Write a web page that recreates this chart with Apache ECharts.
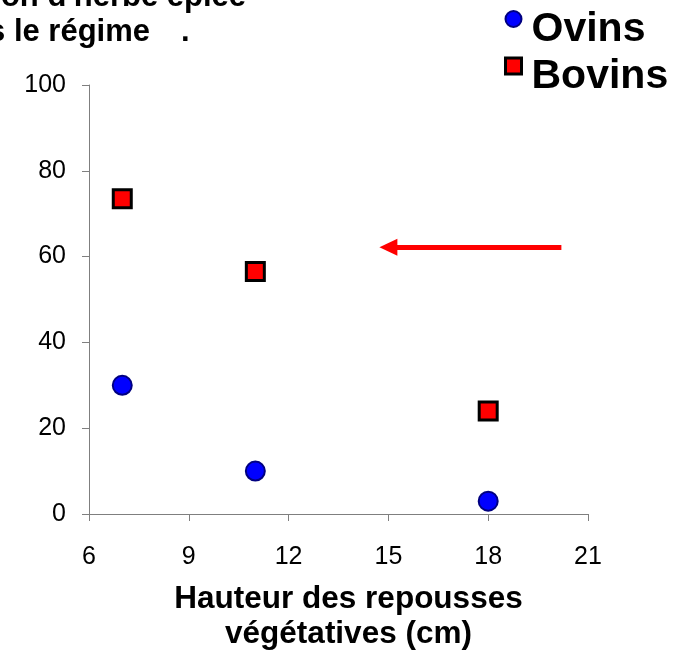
<!DOCTYPE html>
<html>
<head>
<meta charset="utf-8">
<script src="https://cdn.jsdelivr.net/npm/echarts@6/dist/echarts.min.js"></script>
<style>
  html, body { margin: 0; padding: 0; background: #fff; }
  #chart { width: 682px; height: 653px; }
</style>
</head>
<body>
<div id="chart"></div>
<script>
// hauteur des repousses (cm)
var hauteurs = [7, 11, 18];
// % d'herbe épiée dans le régime
var ovins = [30, 10, 3];
var bovins = [73.5, 56.5, 24];
// flèche (coordonnées des données)
var flecheDebut = [20.2, 62.2];
var flecheFin = [15.0, 62.2];

var police = 'Liberation Sans, Arial, sans-serif';

function points(xs, ys) {
  var res = [];
  for (var i = 0; i < xs.length; i++) res.push([xs[i], ys[i]]);
  return res;
}

var myChart = echarts.init(document.getElementById('chart'));
var option = {
  animation: false,
  textStyle: { fontFamily: police, color: '#000' },
  grid: { left: 89, right: 94, top: 85, bottom: 139, containLabel: false, outerBoundsMode: 'none' },
  graphic: [
    { type: 'text', x: 246, y: -3,
      style: { text: "Proportion d'herbe épiée", font: 'bold 31px ' + police, fill: '#000', align: 'right', verticalAlign: 'middle' } },
    { type: 'text', x: 150, y: 32,
      style: { text: 'dans le régime', font: 'bold 31px ' + police, fill: '#000', align: 'right', verticalAlign: 'middle' } },
    { type: 'text', x: 181, y: 32,
      style: { text: '.', font: 'bold 31px ' + police, fill: '#000', align: 'left', verticalAlign: 'middle' } }
  ],
  legend: {
    orient: 'vertical',
    left: 504,
    top: -12,
    padding: 0,
    itemGap: -15,
    itemWidth: 16,
    itemHeight: 16,
    formatter: '{t|{name}}',
    textStyle: {
      rich: {
        t: { fontSize: 41, fontWeight: 'bold', fontFamily: police, color: '#000', lineHeight: 41, padding: [21, 0, 0, 5] }
      }
    },
    data: [
      { name: 'Ovins', icon: 'circle', itemStyle: { color: '#0000ff', borderColor: '#000080', borderWidth: 2 } },
      { name: 'Bovins', icon: 'rect', itemStyle: { color: '#ff0000', borderColor: '#000000', borderWidth: 3 } }
    ]
  },
  xAxis: {
    type: 'value',
    min: 6, max: 21, interval: 3,
    name: 'Hauteur des repousses\nvégétatives (cm)',
    nameLocation: 'middle',
    nameGap: 68,
    nameTextStyle: { fontSize: 31.5, fontWeight: 'bold', lineHeight: 35, color: '#000', padding: [0, 0, 0, 20] },
    axisLine: { onZero: false, lineStyle: { color: '#7f7f7f', width: 1 } },
    axisTick: { length: 7, lineStyle: { color: '#7f7f7f' } },
    axisLabel: { fontSize: 25, color: '#000', margin: 31 },
    splitLine: { show: false }
  },
  yAxis: {
    type: 'value',
    min: 0, max: 100, interval: 20,
    axisLine: { show: true, lineStyle: { color: '#7f7f7f', width: 1 } },
    axisTick: { show: true, length: 7, lineStyle: { color: '#7f7f7f' } },
    axisLabel: { fontSize: 25, color: '#000', margin: 23 },
    splitLine: { show: false }
  },
  series: [
    {
      name: 'Ovins',
      type: 'scatter',
      symbol: 'circle',
      symbolSize: 19,
      itemStyle: { color: '#0000ff', borderColor: '#000080', borderWidth: 2, opacity: 1 },
      data: points(hauteurs, ovins)
    },
    {
      name: 'Bovins',
      type: 'scatter',
      symbol: 'rect',
      symbolSize: 18,
      itemStyle: { color: '#ff0000', borderColor: '#000000', borderWidth: 3, opacity: 1 },
      data: points(hauteurs, bovins),
      markLine: {
        silent: true,
        symbol: ['none', 'triangle'],
        symbolSize: [17, 18],
        label: { show: false },
        lineStyle: { color: '#ff0000', width: 5, type: 'solid' },
        data: [[{ coord: flecheDebut }, { coord: flecheFin }]]
      }
    }
  ]
};
myChart.setOption(option);
</script>
</body>
</html>
